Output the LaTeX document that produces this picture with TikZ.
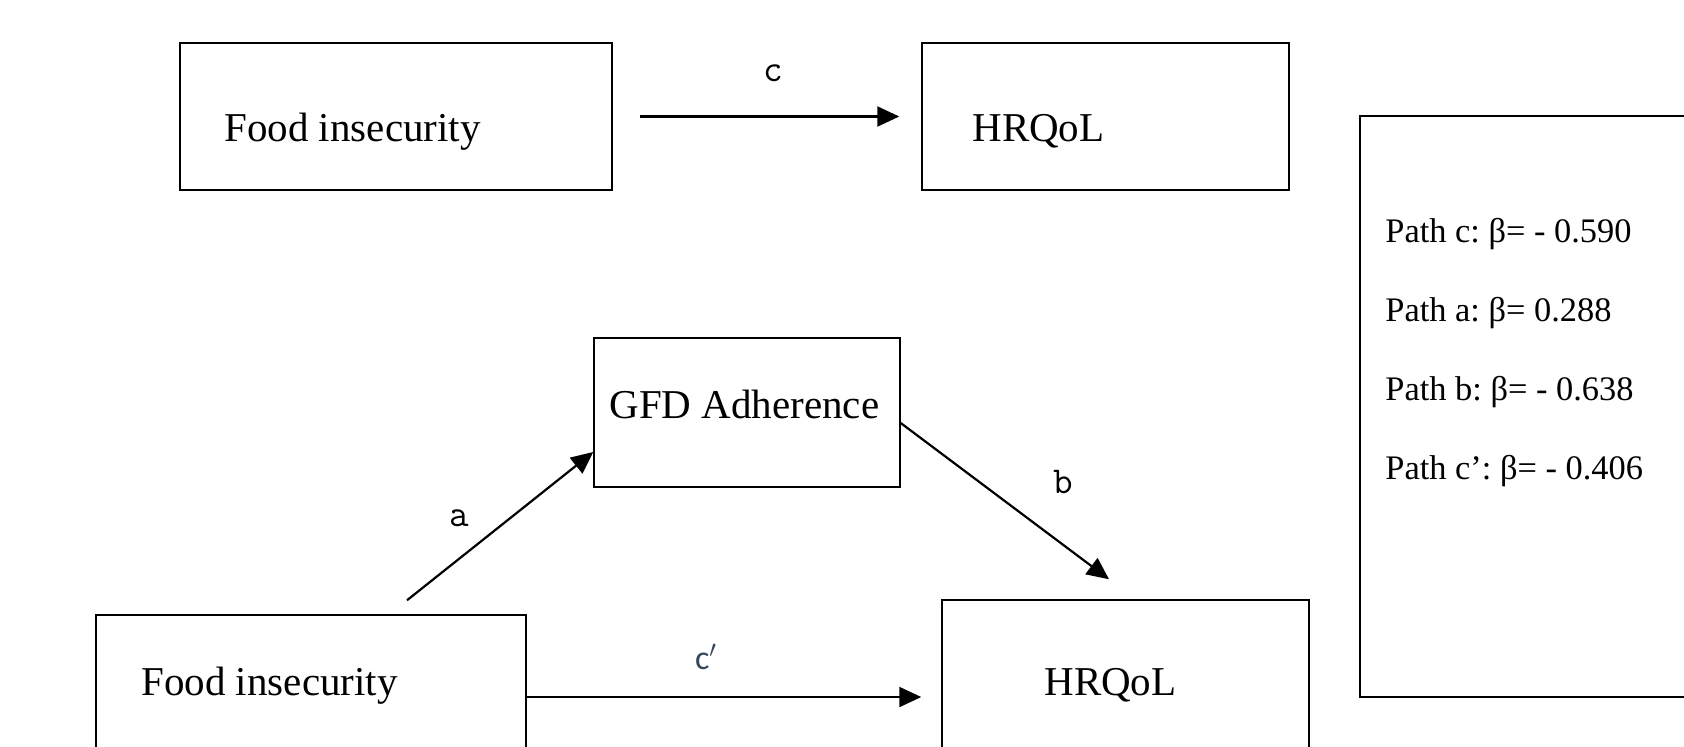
\documentclass[tikz,border=0pt]{standalone}
\usepackage{fontspec}
\setmainfont{Liberation Serif}
\newfontfamily\primefont{Carlito}
\usepackage{xcolor}
\usetikzlibrary{positioning, arrows.meta}
\definecolor{primecol}{HTML}{34475A}

\begin{document}
\begin{tikzpicture}[x=0.5pt, y=-0.5pt,
    box/.style={draw, line width=0.75pt, inner sep=0pt},
    arr/.style={line width=1.1pt, -{Triangle[length=11pt, width=10pt]}},
    boxtext/.style={font=\fontsize{20.5}{24}\selectfont, inner sep=0pt, anchor=base west},
    pathtext/.style={font=\fontsize{17.2}{20}\selectfont\frenchspacing, inner sep=0pt, anchor=base west},
    lab/.style={font=\ttfamily\fontsize{19}{22}\selectfont, inner sep=0pt}]
        \useasboundingbox (0,0) rectangle (1684,746);
        %\draw[gray!30] (0,0) grid[step=100] (1684,746);
        % total effect
        \node[box, minimum width=216pt, minimum height=73.5pt] (fi) at (396,116.5) {};
        \node[box, minimum width=183.5pt, minimum height=73.5pt] (hrq) at (1105.5,116.5) {};
        \node[boxtext] (fitxt) at (224,141) {Food insecurity};
        \node[boxtext] (hrqtxt) at (972,141) {HRQoL};
        \draw[arr, shorten <=13.5pt, shorten >=11pt] (fi) -- (hrq);
        \node[lab] (lc) at (773,73) {c};

        % mediation
        \node[box, minimum width=153pt, minimum height=74.5pt] (gfd) at (747,412.5) {};
        \node[box, minimum width=215pt, minimum height=82pt] (fib) at (311,697) {};
        \node[box, minimum width=183.5pt, minimum height=97pt] (hrqb) at (1125.5,697) {};
        \node[boxtext] (gfdtxt) at (609,418) {GFD Adherence};
        \node[boxtext] (fibtxt) at (141,695) {Food insecurity};
        \node[boxtext] (hrqbtxt) at (1044,695) {HRQoL};

        \coordinate (a0) at ([shift={(96,-14)}]fib.north);
        \coordinate (a1) at ([yshift=-19.75pt]gfd.west);
        \draw[arr] (a0) -- (a1);
        \node[lab] (la) at (459,518) {a};

        \coordinate (b0) at ([yshift=-5.25pt]gfd.east);
        \coordinate (b1) at ([shift={(-16.5,-20)}]hrqb.north);
        \draw[arr] (b0) -- (b1);
        \node[lab] (lb) at (1063,482) {b};

        \draw[arr, shorten >=10pt] (fib) -- (hrqb);
        \node[font=\primefont\fontsize{17}{20}\selectfont, text=primecol, inner sep=0pt] (lcp) at (706,657) {c$'$};

        % coefficients
        \node[box, minimum width=200pt, minimum height=290.5pt] (stats) at (1560,406.5) {};
    \foreach \txt [count=\i] in {Path c: β= - 0.590, Path a: β= 0.288, Path b: β= - 0.638, Path c’: β= - 0.406}
    {%
        \node[pathtext] (path\i) at (1385,{242+79.3*(\i-1)}) {\txt};
    }
\end{tikzpicture}
\end{document}
